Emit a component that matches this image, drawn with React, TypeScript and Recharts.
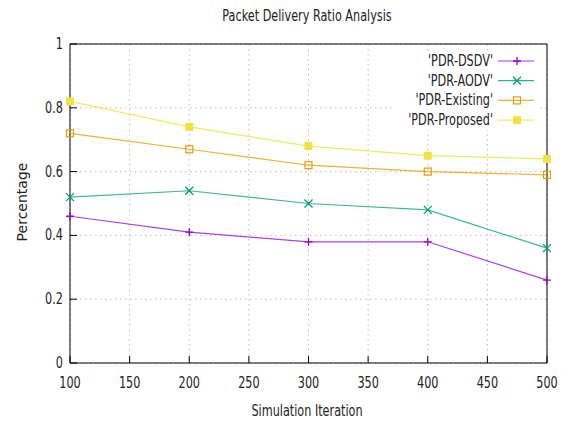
import React from "react";
import {
  LineChart,
  Line,
  XAxis,
  YAxis,
  CartesianGrid,
  ReferenceArea,
} from "recharts";

const iterations = [100, 200, 300, 400, 500];
const pdrDsdv = [0.46, 0.41, 0.38, 0.38, 0.26];
const pdrAodv = [0.52, 0.54, 0.5, 0.48, 0.36];
const pdrExisting = [0.72, 0.67, 0.62, 0.6, 0.59];
const pdrProposed = [0.82, 0.74, 0.68, 0.65, 0.64];

const xTicks = [100, 150, 200, 250, 300, 350, 400, 450, 500];
const yTicks = [0, 0.2, 0.4, 0.6, 0.8, 1];

const data = iterations.map((it, i) => ({
  it,
  dsdv: pdrDsdv[i],
  aodv: pdrAodv[i],
  existing: pdrExisting[i],
  proposed: pdrProposed[i],
}));

const FONT = "'DejaVu Sans', sans-serif";
const SQ = 0.75; // text in the picture is squeezed sideways

const W = 566;
const H = 421;
const M = { top: 44, right: 19, left: 0, bottom: 28 };

const C_DSDV = "#9400d3";
const C_AODV = "#009e73";
const C_EXIST = "#e69f00";
const C_PROP = "#f0e442";

type Kind = "plus" | "cross" | "open" | "filled";

function marker(kind: Kind, color: string, cx: number, cy: number, key?: string) {
  const s = 4;
  if (kind === "plus")
    return (
      <path key={key} d={`M${cx - s},${cy}h${s * 2}M${cx},${cy - s}v${s * 2}`} stroke={color} strokeWidth={1.3} fill="none" />
    );
  if (kind === "cross")
    return (
      <path
        key={key}
        d={`M${cx - s},${cy - s}L${cx + s},${cy + s}M${cx - s},${cy + s}L${cx + s},${cy - s}`}
        stroke={color}
        strokeWidth={1.3}
        fill="none"
      />
    );
  if (kind === "open")
    return <rect key={key} x={cx - 3.5} y={cy - 3.5} width={7} height={7} stroke={color} strokeWidth={1.2} fill="none" />;
  return <rect key={key} x={cx - 4} y={cy - 4} width={8} height={8} fill={color} />;
}

const dotFor = (kind: Kind, color: string) => (p: any) =>
  marker(kind, color, p.cx, p.cy, `${kind}-${p.index}`);

function XTick({ x, y, payload }: any) {
  return (
    <g>
      <line x1={x} x2={x} y1={y - 8} y2={y - 15} stroke="#000" />
      <text
        transform={`translate(${x},${y + 17}) scale(${SQ},1)`}
        textAnchor="middle"
        fontFamily={FONT}
        fontSize={15}
        fill="#222"
      >
        {payload.value}
      </text>
    </g>
  );
}

function XTopTick({ x, payload }: any) {
  return <line key={payload.value} x1={x} x2={x} y1={M.top} y2={M.top + 7} stroke="#000" />;
}

function YTick({ y, payload }: any) {
  return (
    <g>
      <line x1={70} x2={77} y1={y} y2={y} stroke="#000" />
      <text
        transform={`translate(63,${y + 5}) scale(${SQ},1)`}
        textAnchor="end"
        fontFamily={FONT}
        fontSize={15}
        fill="#222"
      >
        {payload.value}
      </text>
    </g>
  );
}

function YRightTick({ y }: any) {
  return <line x1={W - M.right} x2={W - M.right - 7} y1={y} y2={y} stroke="#000" />;
}

const legendRows: { name: string; color: string; kind: Kind }[] = [
  { name: "'PDR-DSDV'", color: C_DSDV, kind: "plus" },
  { name: "'PDR-AODV'", color: C_AODV, kind: "cross" },
  { name: "'PDR-Existing'", color: C_EXIST, kind: "open" },
  { name: "'PDR-Proposed'", color: C_PROP, kind: "filled" },
];

export default function App() {
  return (
    <div style={{ position: "absolute", left: 0, top: 0, width: W, height: H, background: "#fff" }}>
      <LineChart width={W} height={H} data={data} margin={M}>
        <CartesianGrid stroke="#bdbdbd" strokeDasharray="1.5 3.5" />
        <XAxis
          dataKey="it"
          type="number"
          domain={[100, 500]}
          ticks={xTicks}
          height={30}
          axisLine={false}
          tickLine={false}
          tick={<XTick />}
          interval={0}
        />
        <XAxis
          xAxisId="top"
          dataKey="it"
          type="number"
          orientation="top"
          domain={[100, 500]}
          ticks={xTicks.slice(1, -1)}
          height={0}
          axisLine={false}
          tickLine={false}
          tick={<XTopTick />}
          interval={0}
        />
        <YAxis
          type="number"
          domain={[0, 1]}
          ticks={yTicks}
          width={70}
          axisLine={false}
          tickLine={false}
          tick={<YTick />}
          interval={0}
        />
        <YAxis
          yAxisId="right"
          orientation="right"
          type="number"
          domain={[0, 1]}
          ticks={yTicks.slice(1, -1)}
          width={0}
          axisLine={false}
          tickLine={false}
          tick={<YRightTick />}
          interval={0}
        />
        <ReferenceArea x1={100} x2={500} y1={0} y2={1} fill="none" stroke="#000" strokeWidth={1} ifOverflow="visible" />
        <Line dataKey="dsdv" stroke={C_DSDV} strokeOpacity={0.75} strokeWidth={1.2} dot={dotFor("plus", C_DSDV)} isAnimationActive={false} />
        <Line dataKey="aodv" stroke={C_AODV} strokeOpacity={0.75} strokeWidth={1.2} dot={dotFor("cross", C_AODV)} isAnimationActive={false} />
        <Line dataKey="existing" stroke={C_EXIST} strokeOpacity={0.8} strokeWidth={1.2} dot={dotFor("open", C_EXIST)} isAnimationActive={false} />
        <Line dataKey="proposed" stroke={C_PROP} strokeOpacity={0.85} strokeWidth={1.2} dot={dotFor("filled", C_PROP)} isAnimationActive={false} />
      </LineChart>

      {/* title, axis titles and the opaque key box */}
      <svg width={W} height={H} style={{ position: "absolute", left: 0, top: 0, pointerEvents: "none" }}>
        <text
          transform={`translate(307,21) scale(${SQ},1)`}
          textAnchor="middle"
          fontFamily={FONT}
          fontSize={15}
          fill="#222"
        >
          Packet Delivery Ratio Analysis
        </text>
        <text
          transform={`translate(307,416) scale(${SQ},1)`}
          textAnchor="middle"
          fontFamily={FONT}
          fontSize={15}
          fill="#222"
        >
          Simulation Iteration
        </text>
        <text
          transform="translate(27,202) rotate(-90)"
          textAnchor="middle"
          fontFamily={FONT}
          fontSize={14}
          fill="#222"
        >
          Percentage
        </text>
        <rect x={392} y={52} width={146} height={78} fill="#fff" />
        {legendRows.map((r, i) => {
          const cy = 61 + i * 19.7;
          return (
            <g key={r.name}>
              <text
                transform={`translate(493,${cy + 5}) scale(${SQ},1)`}
                textAnchor="end"
                fontFamily={FONT}
                fontSize={15}
                fill="#222"
              >
                {r.name}
              </text>
              <line x1={498} x2={534} y1={cy} y2={cy} stroke={r.color} strokeOpacity={0.8} strokeWidth={1.2} />
              {marker(r.kind, r.color, 517, cy)}
            </g>
          );
        })}
      </svg>
    </div>
  );
}
